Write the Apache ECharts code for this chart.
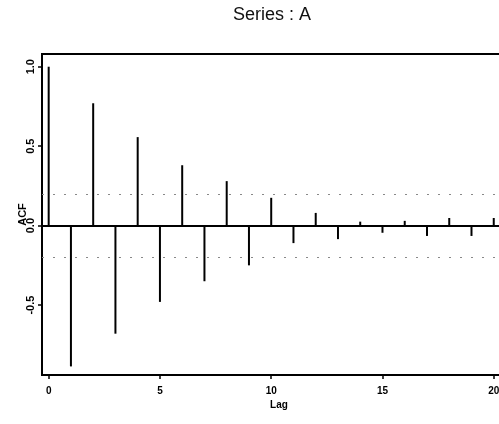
<!DOCTYPE html>
<html>
<head>
<meta charset="utf-8">
<script src="https://cdn.jsdelivr.net/npm/echarts@6/dist/echarts.min.js"></script>
<style>html,body{margin:0;padding:0;background:#fff}#c{width:499px;height:424px}</style>
</head>
<body>
<div id="c"></div>
<script>
var lags = [0,1,2,3,4,5,6,7,8,9,10,11,12,13,14,15,16,17,18,19,20];
var acf = [1.0,-0.886,0.77,-0.68,0.557,-0.48,0.38,-0.35,0.28,-0.25,0.175,-0.11,0.08,-0.085,0.025,-0.045,0.03,-0.065,0.048,-0.065,0.048];
var confLimit = 0.2;
var xTicks = [0,5,10,15,20];
var yTicks = [-0.5,0,0.5,1];
var yTickLabels = ['-0.5','0.0','0.5','1.0'];
var titleText = 'Series : A';

var chart = echarts.init(document.getElementById('c'), null, {renderer:'canvas'});
var barData = lags.map(function(l,i){return [l, acf[i]];});
var xFont = {fontFamily:'Liberation Sans, Arial, sans-serif', fontWeight:'bold', fontSize:10, color:'#000'};
var yFont = {fontFamily:'Liberation Sans, Arial, sans-serif', fontWeight:'bold', fontSize:11, color:'#000'};
chart.setOption({
  animation:false,
  backgroundColor:'#fff',
  graphic:[{type:'text', x:272, y:15, style:{text:titleText, fontFamily:'Liberation Sans, Arial, sans-serif', fontSize:18, fill:'#111', textAlign:'center', textVerticalAlign:'middle'}}],
  grid:{left:42, top:54, width:474, height:321, show:true, borderColor:'#000', borderWidth:2, backgroundColor:'transparent', outerBoundsMode:'none', containLabel:false},
  xAxis:{type:'value', min:-0.3, max:21, name:'Lag', nameLocation:'middle', nameGap:25, nameMoveOverlap:false,
    nameTextStyle:xFont,
    axisLine:{show:true, onZero:false, lineStyle:{color:'#000', width:2}},
    axisTick:{show:true, length:4, lineStyle:{color:'#000', width:1.5}, customValues:xTicks},
    axisLabel:Object.assign({margin:11, customValues:xTicks, formatter:function(v){return String(v);}}, xFont),
    splitLine:{show:false}},
  yAxis:{type:'value', min:-0.94, max:1.08, name:'ACF', nameLocation:'middle', nameGap:14, nameRotate:90, nameMoveOverlap:false,
    nameTextStyle:yFont,
    axisLine:{show:true, onZero:false, lineStyle:{color:'#000', width:2}},
    axisTick:{show:true, length:4, lineStyle:{color:'#000', width:1.5}, customValues:yTicks},
    axisLabel:Object.assign({margin:6, rotate:90, customValues:yTicks, formatter:function(v){var i=yTicks.indexOf(v);return i>=0?yTickLabels[i]:'';}}, yFont),
    splitLine:{show:false}},
  series:[{
    type:'bar', data:barData, barWidth:2, itemStyle:{color:'#000'},
    markLine:{silent:true, symbol:'none', label:{show:false},
      data:[
        {yAxis:0, lineStyle:{color:'#000', width:2, type:'solid'}},
        {yAxis:confLimit, lineStyle:{color:'#888', width:1, type:[2,9]}},
        {yAxis:-confLimit, lineStyle:{color:'#888', width:1, type:[2,9]}}
      ]}
  }]
});
</script>
</body>
</html>
